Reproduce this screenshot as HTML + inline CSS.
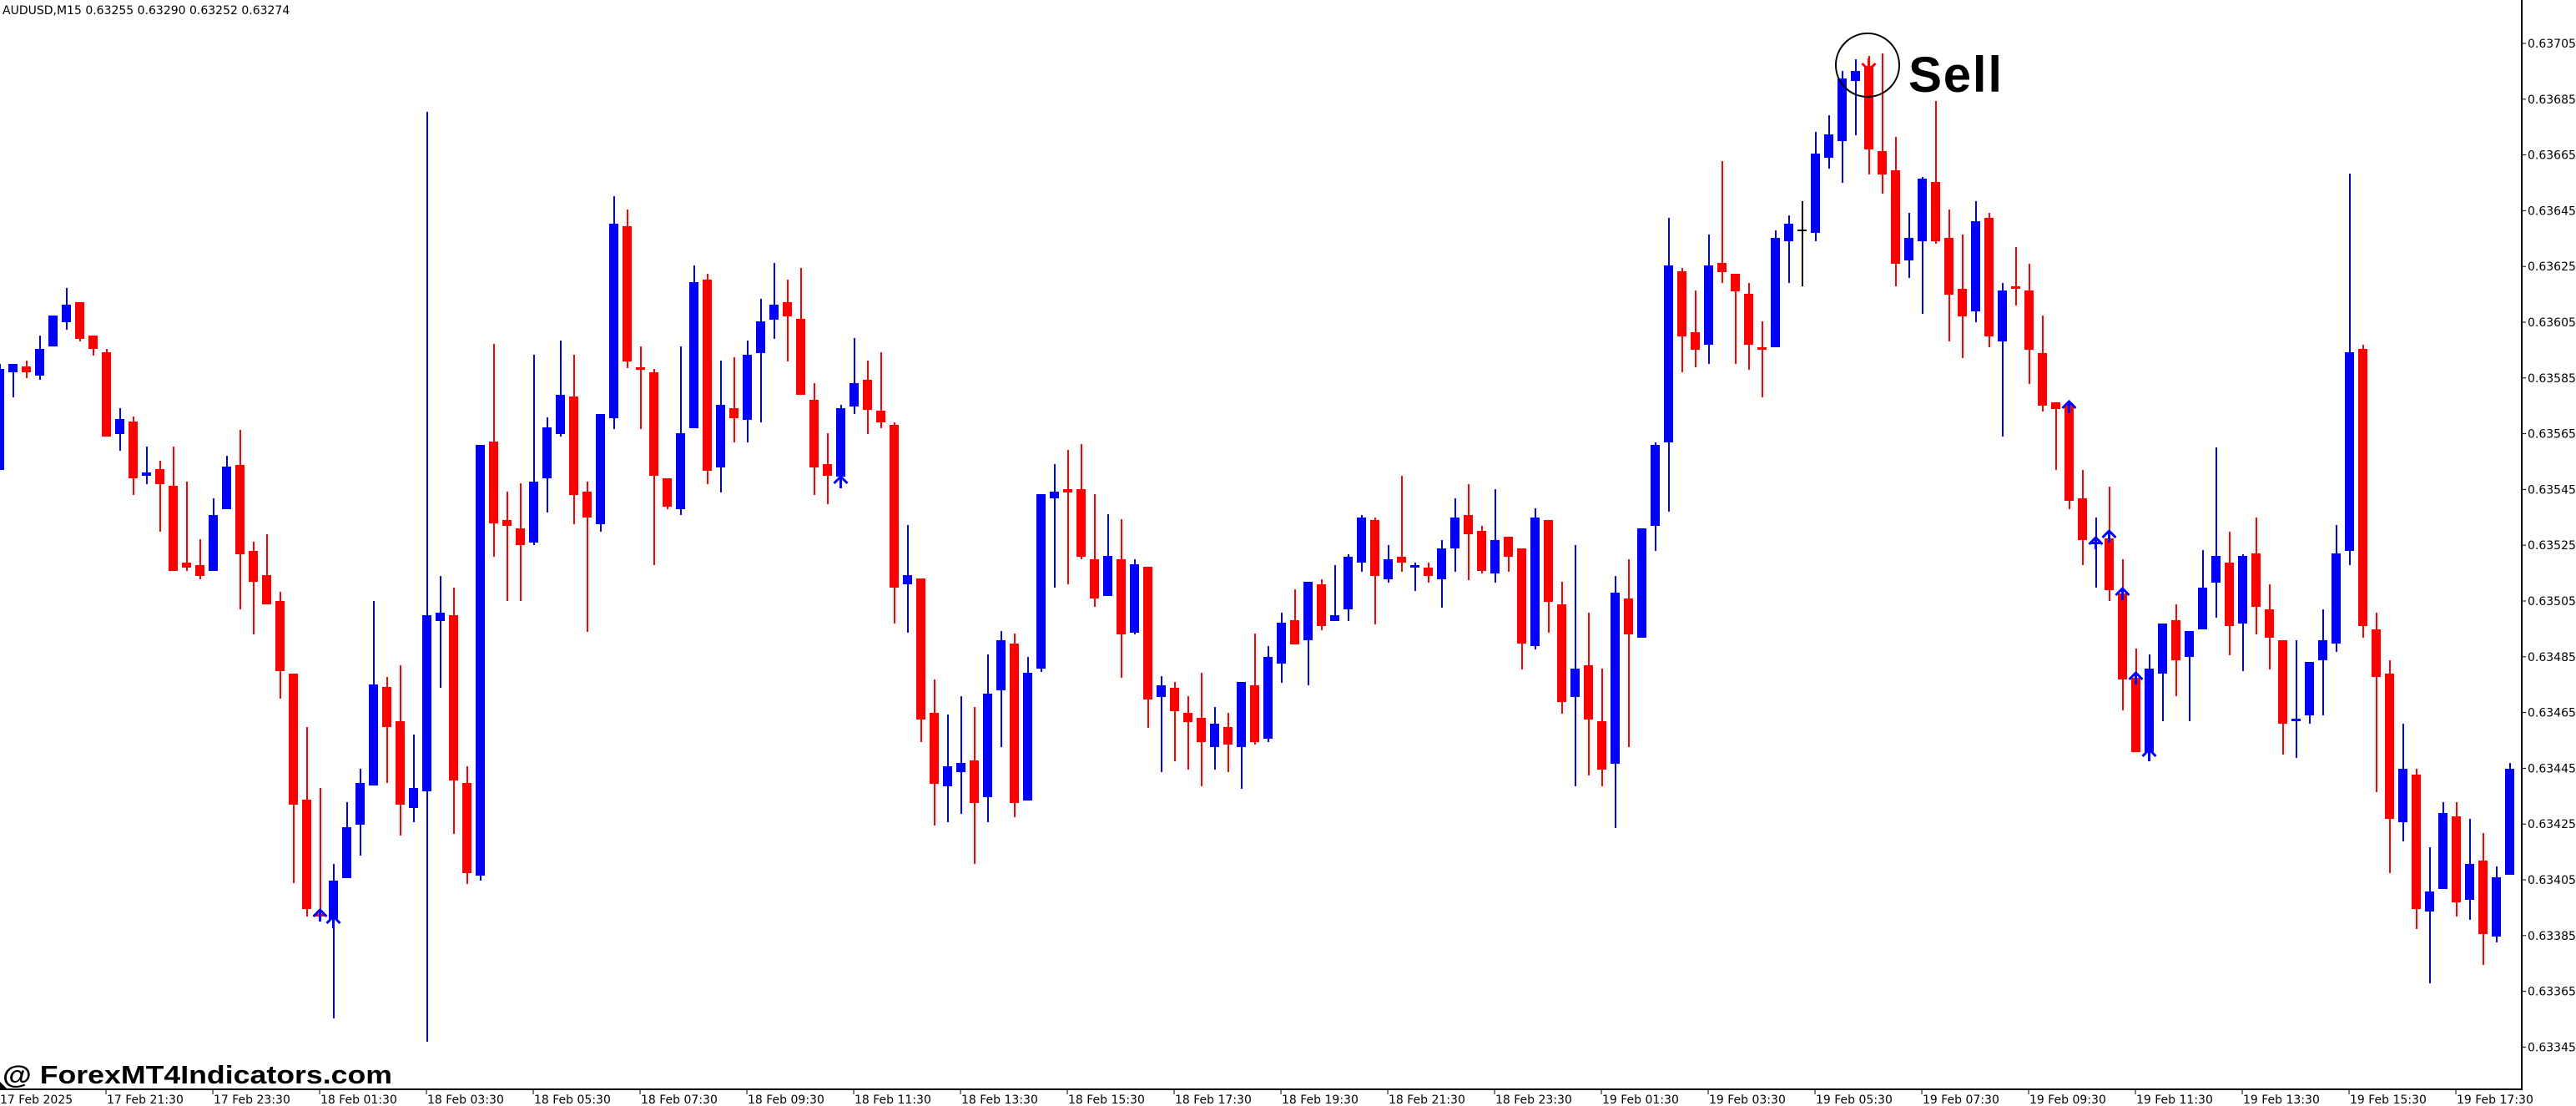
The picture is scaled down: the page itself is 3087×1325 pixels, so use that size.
<!DOCTYPE html>
<html><head><meta charset="utf-8">
<style>
html,body{margin:0;padding:0;background:#fff;}
body{width:3087px;height:1325px;overflow:hidden;position:relative;}
svg{position:absolute;left:0;top:0;}
</style></head>
<body>
<svg id="c" width="3087" height="1325" viewBox="0 0 3087 1325" xmlns="http://www.w3.org/2000/svg" font-family="Tahoma, 'DejaVu Sans', 'Liberation Sans', sans-serif">
<rect width="3087" height="1325" fill="#fff"/>
<g id="candles" shape-rendering="crispEdges"></g>
<g id="arrows"></g>
<!-- axes -->
<line x1="3022" y1="0" x2="3022" y2="1306" stroke="#000" stroke-width="2"/>
<line x1="0" y1="1305" x2="3023" y2="1305" stroke="#000" stroke-width="2"/>
<g id="yt" font-size="14" fill="#000"></g>
<g id="xt" font-size="14" fill="#000"></g>
<text x="3" y="17" font-size="14" fill="#000">AUDUSD,M15  0.63255 0.63290 0.63252 0.63274</text>
<circle cx="2238" cy="78" r="38" fill="none" stroke="#000" stroke-width="2"/>
<text x="2287" y="110" font-family="'Liberation Sans', Arial, sans-serif" font-weight="bold" font-size="60" textLength="112" fill="#000">Sell</text>
<text x="3" y="1298" font-family="'Liberation Sans', Arial, sans-serif" font-weight="bold" font-size="31" textLength="467" lengthAdjust="spacingAndGlyphs" fill="#000">@ ForexMT4Indicators.com</text>
<polygon points="0,1296 8,1304 0,1304" fill="#000"/>
</svg>
<script>
var D=[
[0,'b',442,563,436,563],[1,'b',436,446,436,476],[2,'r',439,446,432,453],[3,'b',418,450,402,455],[4,'b',378,415,378,415],[5,'b',365,386,345,395],[6,'r',362,406,362,409],[7,'r',402,418,402,426],[8,'r',422,523,418,523],[9,'b',502,520,489,540],
[10,'r',505,573,499,593],[11,'b',566,570,535,580],[12,'r',562,580,552,637],[13,'r',582,684,535,684],[14,'r',674,680,577,684],[15,'r',677,690,646,694],[16,'b',617,684,597,684],[17,'b',559,610,546,610],[18,'r',557,664,515,730],[19,'r',660,697,649,760],
[20,'r',689,724,640,724],[21,'r',720,804,709,837],[22,'r',807,964,807,1058],[23,'r',958,1089,871,1098],[24,'r',1095,1098,944,1098],[25,'b',1055,1101,1035,1220],[26,'b',991,1052,961,1052],[27,'b',938,988,921,1025],[28,'b',820,941,720,941],[29,'r',823,871,811,938],
[30,'r',864,964,797,1001],[31,'b',944,968,880,985],[32,'b',737,948,134,1248],[33,'b',734,744,690,824],[34,'r',737,935,704,999],[35,'r',938,1046,918,1059],[36,'b',533,1049,533,1055],[37,'r',529,627,412,667],[38,'r',623,630,589,720],[39,'r',633,653,579,720],
[40,'b',577,650,425,653],[41,'b',512,573,500,614],[42,'b',473,520,408,523],[43,'r',475,593,425,628],[44,'r',589,620,577,757],[45,'b',496,628,496,637],[46,'b',268,501,235,514],[47,'r',271,433,251,441],[48,'r',440,443,415,514],[49,'r',446,570,442,677],
[50,'r',573,607,573,610],[51,'b',519,610,415,617],[52,'b',338,513,318,513],[53,'r',335,564,328,580],[54,'b',485,560,432,590],[55,'r',489,501,428,530],[56,'b',425,503,408,530],[57,'b',385,423,358,506],[58,'b',365,383,315,406],[59,'r',362,379,335,433],
[60,'r',382,473,321,473],[61,'r',479,560,459,593],[62,'r',556,570,519,604],[63,'b',489,571,485,571],[64,'b',459,487,405,496],[65,'r',455,491,432,520],[66,'r',492,506,422,513],[67,'r',509,704,506,747],[68,'b',689,700,629,758],[69,'r',693,862,693,889],
[70,'r',854,939,814,989],[71,'b',918,942,856,985],[72,'b',914,925,834,975],[73,'r',911,962,847,1035],[74,'b',831,955,784,985],[75,'b',767,827,756,895],[76,'r',771,962,759,979],[77,'b',806,959,787,959],[78,'b',592,801,592,805],[79,'b',589,597,556,704],
[80,'r',586,590,539,700],[81,'r',586,667,532,670],[82,'r',670,717,592,727],[83,'b',666,714,616,714],[84,'r',670,760,622,812],[85,'b',676,758,670,760],[86,'r',679,838,679,872],[87,'b',821,835,810,925],[88,'r',824,852,817,912],[89,'r',854,865,834,922],
[90,'r',860,889,806,942],[91,'b',867,895,847,922],[92,'r',871,892,854,925],[93,'b',817,895,817,945],[94,'r',821,889,759,892],[95,'b',787,885,774,889],[96,'b',746,795,734,818],[97,'r',743,772,706,772],[98,'b',697,767,697,821],[99,'r',700,750,694,755],
[100,'b',737,744,677,744],[101,'b',667,730,664,744],[102,'b',620,674,617,685],[103,'r',623,690,620,748],[104,'b',670,694,653,698],[105,'r',667,674,570,685],[106,'b',677,680,674,708],[107,'r',680,690,674,698],[108,'b',657,694,647,728],[109,'b',620,657,597,685],
[110,'r',617,640,580,695],[111,'r',636,684,630,687],[112,'b',647,687,586,698],[113,'r',643,667,643,685],[114,'r',657,771,657,802],[115,'b',620,774,609,778],[116,'r',623,721,623,758],[117,'r',724,841,697,855],[118,'b',801,835,653,942],[119,'r',797,862,734,929],
[120,'r',864,922,801,942],[121,'b',710,915,690,992],[122,'r',717,760,670,895],[123,'b',633,764,633,764],[124,'b',533,630,530,660],[125,'b',318,530,261,613],[126,'r',325,403,321,446],[127,'r',398,419,348,440],[128,'b',318,413,281,436],[129,'r',315,326,193,339],
[130,'r',328,349,328,436],[131,'r',352,413,339,443],[132,'r',416,419,385,476],[133,'b',285,416,276,416],[134,'b',268,289,258,339],[135,'k',275,277,241,343],[136,'b',184,279,158,289],[137,'b',161,189,138,202],[138,'b',94,169,85,219],[139,'b',85,97,71,162],
[140,'r',79,179,67,209],[141,'r',181,209,64,232],[142,'r',204,316,164,343],[143,'b',285,312,255,333],[144,'b',214,289,212,376],[145,'r',218,289,121,292],[146,'r',285,353,251,409],[147,'r',346,379,281,429],[148,'b',265,373,241,386],[149,'r',261,403,255,416],
[150,'b',348,409,339,523],[151,'r',343,346,296,366],[152,'r',348,419,316,460],[153,'r',423,486,378,493],[154,'r',482,490,482,563],[155,'r',485,600,485,610],[156,'r',597,647,563,677],[157,'b',649,652,620,704],[158,'r',645,707,583,720],[159,'r',711,814,670,851],
[160,'r',812,901,777,901],[161,'b',801,901,784,909],[162,'b',747,807,747,864],[163,'r',743,791,724,834],[164,'b',756,787,756,864],[165,'b',704,754,659,754],[166,'b',666,698,536,740],[167,'r',674,750,637,785],[168,'b',666,747,664,804],[169,'r',663,727,620,760],
[170,'r',730,764,700,802],[171,'r',767,867,767,904],[172,'b',861,864,767,908],[173,'b',793,857,793,867],[174,'b',767,791,730,857],[175,'b',663,771,629,781],[176,'b',422,660,208,677],[177,'r',418,750,413,764],[178,'r',754,811,734,949],[179,'r',807,981,791,1046],
[180,'b',921,985,867,1008],[181,'r',928,1089,921,1113],[182,'b',1068,1092,1015,1178],[183,'b',974,1065,961,1065],[184,'r',978,1081,961,1098],[185,'b',1035,1078,981,1102],[186,'r',1031,1119,998,1156],[187,'b',1051,1122,1038,1129],[188,'b',921,1048,914,1048]
];
var NS="http://www.w3.org/2000/svg";
var g=document.getElementById('candles');
function el(t,a,p){var e=document.createElementNS(NS,t);for(var k in a)e.setAttribute(k,a[k]);p.appendChild(e);return e;}
var col={b:'#0000FF',r:'#FF0000',k:'#000000'};
D.forEach(function(d){
  var x=16*d[0];var c=col[d[1]];
  el('rect',{x:x-1,y:d[4],width:2,height:Math.max(1,d[5]-d[4]),fill:c},g);
  var h=d[3]-d[2]; var y=d[2]; if(h<2){h=2;}
  el('rect',{x:x-6,y:y,width:11,height:h,fill:c},g);
});
var ag=document.getElementById('arrows');
function up(i,y,c){var x=16*i-0.5;
  el('polyline',{points:(x-8)+','+(y+8)+' '+x+','+y+' '+(x+8)+','+(y+8),fill:'none',stroke:c||'#0000FF','stroke-width':3},ag);
  el('line',{x1:x,y1:y,x2:x,y2:y+14,stroke:c||'#0000FF','stroke-width':3},ag);}
function down(i,y,c){var x=16*i-0.5;
  el('polyline',{points:(x-8)+','+(y-8)+' '+x+','+y+' '+(x+8)+','+(y-8),fill:'none',stroke:c,'stroke-width':3},ag);
  el('line',{x1:x,y1:y,x2:x,y2:y-14,stroke:c,'stroke-width':3},ag);}
up(24,1090);up(25,1098);up(63,571);up(155,481);up(157,644);up(158,636);up(159,705);up(160,806);up(161,898);
down(140,84,'#FF0000');
var yt=document.getElementById('yt');
for(var k=0;k<19;k++){var p=(0.63705-0.0002*k).toFixed(5);var y=52+66.8*k;
  el('line',{x1:3022,y1:y,x2:3027,y2:y,stroke:'#000','stroke-width':1},yt);
  var t=el('text',{x:3029,y:y+5},yt);t.textContent=p;}
var xt=document.getElementById('xt');
var L=['17 Feb 21:30','17 Feb 23:30','18 Feb 01:30','18 Feb 03:30','18 Feb 05:30','18 Feb 07:30','18 Feb 09:30','18 Feb 11:30','18 Feb 13:30','18 Feb 15:30','18 Feb 17:30','18 Feb 19:30','18 Feb 21:30','18 Feb 23:30','19 Feb 01:30','19 Feb 03:30','19 Feb 05:30','19 Feb 07:30','19 Feb 09:30','19 Feb 11:30','19 Feb 13:30','19 Feb 15:30','19 Feb 17:30'];
var t0=el('text',{x:0,y:1322},xt);t0.textContent='17 Feb 2025';
L.forEach(function(s,k){var x=127+128*k;
  el('line',{x1:x,y1:1305,x2:x,y2:1311,stroke:'#000','stroke-width':1},xt);
  var t=el('text',{x:x+1,y:1322},xt);t.textContent=s;});
</script>
</body></html>
